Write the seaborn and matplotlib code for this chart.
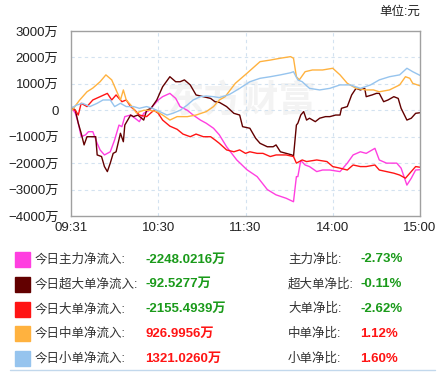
import numpy as np
import pandas as pd
import matplotlib
matplotlib.use("Agg")
import matplotlib.pyplot as plt
import seaborn as sns
from matplotlib.ticker import FuncFormatter

# 分钟序号 (0 = 09:31, 240 = 15:00) 与资金净流入 (万)
zl_t = [0, 3, 5, 7, 10, 12, 15, 18, 20, 23, 27, 30, 33, 35, 37, 41, 44, 47, 50, 54, 56, 60, 63, 68, 72, 75,
        80, 84, 89, 93, 98, 102, 107, 114, 121, 128, 135, 141, 148, 153, 155, 156, 158, 161, 164, 169, 173,
        178, 185, 190, 194, 199, 203, 209, 212, 217, 224, 227, 231, 234, 237, 240]
zl_v = [140, -115, -490, -1000, -930, -810, -810, -1250, -1500, -1690, -1570, -1120, -560, -620, -240, -180,
        -300, -430, -115, 0, 140, 390, 515, 640, 450, 140, 0, -180, -370, -490, -680, -930, -1380, -1880,
        -2250, -2510, -3000, -3200, -3330, -3460, -2510, -2510, -1900, -2070, -2130, -2320, -2260, -2260,
        -2320, -2000, -1690, -1570, -1630, -1440, -1880, -2000, -2000, -2190, -2830, -2570, -2260, -2248]

cd_t = [0, 3, 5, 7, 9, 11, 14, 17, 18, 21, 23, 25, 27, 29, 31, 34, 36, 37, 41, 43, 46, 50, 52, 55, 59, 63,
        68, 72, 75, 78, 82, 86, 91, 96, 99, 102, 107, 112, 116, 118, 123, 127, 130, 135, 139, 141, 144, 148,
        152, 153, 155, 156, 158, 160, 162, 164, 168, 171, 175, 178, 182, 185, 186, 190, 193, 196, 199, 202,
        203, 207, 210, 212, 215, 218, 222, 225, 227, 231, 234, 237, 240]
cd_v = [140, 0, -490, -870, -1310, -1000, -1000, -1000, -1690, -1750, -2130, -2320, -2000, -1630, -1570,
        -870, -1190, -560, -180, -240, -180, -370, 0, 75, 390, 890, 1270, 1080, 1080, 1150, 960, 580, 515,
        450, 325, 300, 140, -115, -180, -620, -680, -1060, -1250, -1380, -1380, -1310, -1570, -1630, -1690,
        -1750, -560, -490, -180, -50, -370, -300, -430, -300, -240, -240, -180, -180, 75, 140, 580, 830, 770,
        830, 515, 580, 640, 640, 325, 390, 515, 450, 75, -370, -300, -115, -92]

dd_t = [0, 3, 5, 7, 11, 15, 20, 25, 28, 31, 35, 38, 41, 44, 47, 52, 57, 60, 63, 68, 73, 77, 82, 86, 91, 96,
        99, 102, 107, 112, 116, 120, 123, 128, 132, 137, 141, 148, 153, 155, 159, 162, 169, 176, 180, 185,
        190, 194, 199, 203, 209, 212, 217, 222, 226, 230, 233, 237, 240]
dd_v = [75, 0, -180, 265, 140, 390, 515, 640, 390, 580, 325, 390, 140, 0, -180, -240, 0, -115, -370, -600,
        -720, -900, -1000, -900, -1000, -1000, -1120, -1250, -1500, -1570, -1500, -1630, -1570, -1630, -1630,
        -1750, -1690, -1690, -1750, -2000, -1880, -1940, -1880, -1940, -2130, -2190, -2260, -2070, -2130,
        -2130, -2070, -2260, -2320, -2380, -2450, -2570, -2380, -2130, -2155]

zd_t = [0, 6, 11, 15, 20, 24, 28, 31, 34, 36, 38, 42, 45, 50, 54, 59, 63, 68, 73, 80, 86, 93, 98, 102, 106,
        113, 121, 130, 137, 144, 151, 153, 155, 157, 161, 166, 173, 180, 185, 190, 196, 203, 208, 212, 219,
        226, 230, 233, 235, 240]
zd_v = [-50, 390, 700, 840, 1080, 1340, 1150, 770, 390, 770, 390, 140, -100, 0, 0, -50, -180, -370, -240,
        -240, -180, -50, 140, 390, 515, 1020, 1400, 1840, 1900, 1970, 2030, 1970, 1270, 1150, 1460, 1525,
        1525, 1590, 1340, 1020, 830, 770, 770, 700, 770, 960, 1270, 1210, 1020, 927]

xd_t = [0, 4, 8, 13, 18, 22, 27, 30, 34, 38, 43, 47, 52, 56, 61, 66, 70, 75, 80, 84, 89, 93, 98, 102, 109,
        116, 123, 130, 137, 144, 151, 153, 156, 159, 164, 171, 178, 185, 192, 199, 206, 212, 219, 226, 231,
        235, 240]
xd_v = [75, 200, 265, 140, 265, 390, 390, 140, 265, 140, 140, 75, 140, 75, -50, -180, -115, 0, 200, 390, 515,
        540, 515, 480, 600, 830, 1080, 1210, 1270, 1340, 1420, 1460, 1150, 1080, 830, 770, 830, 960, 960,
        830, 960, 1150, 1270, 1340, 1590, 1460, 1321]

series_names = ["主力", "超大单", "大单", "中单", "小单"]
series_colors = ["#ff3fe0", "#620000", "#ff1414", "#ffb23f", "#96c4ee"]

tick_pos = [0, 60, 120, 180, 240]
tick_labels = ["09:31", "10:30", "11:30", "14:00", "15:00"]

row_labels = ["今日主力净流入:", "今日超大单净流入:", "今日大单净流入:", "今日中单净流入:", "今日小单净流入:"]
row_values = ["-2248.0216万", "-92.5277万", "-2155.4939万", "926.9956万", "1321.0260万"]
ratio_labels = ["主力净比:", "超大单净比:", "大单净比:", "中单净比:", "小单净比:"]
ratio_values = ["-2.73%", "-0.11%", "-2.62%", "1.12%", "1.60%"]

sns.set_theme(style="white")
plt.rcParams["font.family"] = ["Liberation Sans", "Noto Sans CJK SC", "DejaVu Sans"]
plt.rcParams["axes.unicode_minus"] = True

frames = []
for name, t, v in zip(series_names, [zl_t, cd_t, dd_t, zd_t, xd_t], [zl_v, cd_v, dd_v, zd_v, xd_v]):
    frames.append(pd.DataFrame({"minute": t, "value": v, "series": name}))
df = pd.concat(frames, ignore_index=True)

W, H = 440, 381
fig = plt.figure(figsize=(W / 100, H / 100), dpi=100)
ax = fig.add_axes([71 / W, 1 - 216 / H, 349 / W, 185 / H])

# 水印
ax.text(0.49, 0.62, "东方财富", transform=ax.transAxes, fontsize=27, color="#f3f3f3",
        ha="center", va="center", fontweight="bold", zorder=0, family=["Noto Sans CJK SC"])

sns.lineplot(data=df, x="minute", y="value", hue="series", palette=dict(zip(series_names, series_colors)),
             hue_order=series_names, legend=False, linewidth=1.0, ax=ax, estimator=None, sort=False)

ax.set_xlim(0, 240)
ax.set_ylim(-4000, 3000)
ax.set_yticks(range(-4000, 3001, 1000))
ax.yaxis.set_major_formatter(FuncFormatter(lambda v, p: "0" if v == 0 else f"{int(v)}万".replace("-", "−")))
ax.set_xticks(tick_pos)
ax.set_xticklabels(tick_labels)
ax.set_xlabel("")
ax.set_ylabel("")
ax.tick_params(axis="both", length=0, labelsize=9.5, colors="#222222")
ax.tick_params(axis="y", pad=9)
ax.tick_params(axis="x", pad=4)

for y in range(-3000, 3000, 1000):
    ax.axhline(y, color="#d3e2f0", lw=0.8, ls=(0, (3, 3)), zorder=0.5)
for x in tick_pos[1:-1]:
    ax.axvline(x, color="#d3e2f0", lw=0.8, ls=(0, (3, 3)), zorder=0.5)
for s in ax.spines.values():
    s.set_color("#a0a0a0")
    s.set_linewidth(1)

fig.text(420 / W, 1 - 12 / H, "单位:元", fontsize=9, ha="right", va="center", color="#222222")

row_y = [259.5, 284.3, 309.0, 333.8, 358.5]
for i, yy in enumerate(row_y):
    fig.patches.append(plt.Rectangle((15 / W, 1 - (yy + 7.5) / H), 15 / W, 15 / H,
                                     transform=fig.transFigure, color=series_colors[i]))
    col = "#1a9a1a" if row_values[i].startswith("-") else "#ff1414"
    fig.text(35 / W, 1 - yy / H, row_labels[i], fontsize=9, va="center", color="#333333")
    fig.text(145 / W, 1 - yy / H, row_values[i], fontsize=9.5, va="center", color=col, fontweight="bold")
    fig.text(288 / W, 1 - yy / H, ratio_labels[i], fontsize=9, va="center", color="#333333")
    fig.text(360 / W, 1 - yy / H, ratio_values[i], fontsize=9.5, va="center", color=col, fontweight="bold")

fig.add_artist(plt.Line2D([10 / W, 435 / W], [1 - 370 / H, 1 - 370 / H], color="#c2d8ec", lw=1))

fig.savefig("out.png", dpi=100)
